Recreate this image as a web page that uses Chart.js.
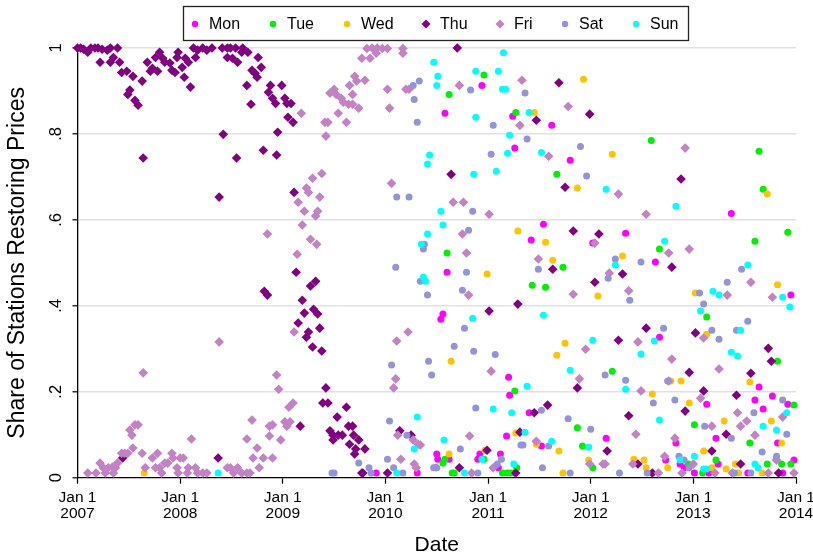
<!DOCTYPE html>
<html lang="en">
  <head>
    <meta charset="utf-8" />
    <title>Share of Stations Restoring Prices</title>
    <style>
      * {
        margin: 0;
        padding: 0;
      }
      body {
        background: white;
      }
      #myChart {
        display: block;
      }
    </style>
  </head>
  <body>
    <canvas id="myChart" width="813" height="554"></canvas>
    <script src="https://cdn.jsdelivr.net/npm/chart.js"></script>
    <script>
      // data: [decimal year, share of stations]
      const days = ["Mon", "Tue", "Wed", "Thu", "Fri", "Sat", "Sun"];
      const yTickLabels = ["0", ".2", ".4", ".6", ".8", "1"];
      const xTickYears = [2007, 2008, 2009, 2010, 2011, 2012, 2013, 2014];

      const mon = [
        [2009.91,0.011],[2010.31,0.011],[2010.94,0.913],[2010.58,0.848],[2011.24,0.841],[2011.62,0.820],
        [2011.26,0.767],[2011.80,0.739],[2011.54,0.590],[2011.42,0.553],[2012.02,0.546],[2010.60,0.478],
        [2010.56,0.381],[2010.54,0.369],[2011.20,0.234],[2011.21,0.192],[2011.40,0.151],[2011.18,0.097],
        [2011.52,0.074],[2012.15,0.092],[2010.50,0.055],[2010.51,0.043],[2010.62,0.043],[2010.92,0.055],
        [2010.90,0.043],[2011.12,0.055],[2011.10,0.023],[2010.49,0.023],[2011.26,0.011],[2013.37,0.615],
        [2012.34,0.569],[2012.63,0.502],[2013.95,0.425],[2012.67,0.327],[2013.64,0.211],[2013.13,0.171],
        [2013.60,0.181],[2013.68,0.160],[2013.77,0.190],[2013.92,0.171],[2013.22,0.092],[2012.83,0.081],
        [2013.82,0.081],[2013.98,0.041],[2012.73,0.041],[2012.87,0.032],[2013.24,0.032],[2013.01,0.011],
        [2013.15,0.011],[2013.53,0.011],[2013.87,0.011],[2012.91,0.023]
      ];
      const tue = [
        [2010.96,0.937],[2010.62,0.892],[2011.27,0.850],[2011.67,0.706],[2010.60,0.523],[2011.73,0.490],
        [2011.43,0.448],[2011.56,0.443],[2011.26,0.202],[2011.87,0.116],[2011.92,0.074],[2012.02,0.023],
        [2010.58,0.043],[2010.56,0.034],[2010.65,0.011],[2010.67,0.011],[2011.14,0.011],[2011.19,0.011],
        [2011.22,0.011],[2011.28,0.023],[2010.96,0.043],[2012.59,0.785],[2013.64,0.760],[2013.68,0.671],
        [2013.92,0.571],[2013.60,0.550],[2012.67,0.532],[2013.13,0.374],[2013.82,0.271],[2012.21,0.248],
        [2013.98,0.169],[2013.01,0.123],[2013.55,0.081],[2012.95,0.032],[2013.22,0.041],[2013.72,0.032],
        [2013.86,0.032],[2013.95,0.032],[2013.09,0.011]
      ];
      const wed = [
        [2007.65,0.011],[2011.93,0.927],[2011.45,0.850],[2011.87,0.674],[2011.29,0.574],[2011.56,0.548],
        [2011.63,0.506],[2010.99,0.474],[2012.07,0.423],[2011.75,0.313],[2011.67,0.285],[2010.64,0.271],
        [2011.27,0.104],[2011.47,0.078],[2011.69,0.062],[2010.97,0.064],[2010.62,0.055],[2011.98,0.041],
        [2011.73,0.011],[2012.21,0.753],[2013.72,0.660],[2012.31,0.516],[2013.82,0.449],[2013.02,0.430],
        [2013.13,0.334],[2012.78,0.225],[2012.88,0.225],[2013.55,0.223],[2012.60,0.195],[2012.96,0.174],
        [2013.30,0.132],[2013.76,0.132],[2013.86,0.081],[2012.42,0.043],[2012.52,0.041],[2012.54,0.023],
        [2012.75,0.023],[2013.10,0.062],[2013.41,0.032],[2013.32,0.020],[2013.44,0.011],[2013.67,0.011],
        [2013.18,0.023]
      ];
      const thu = [
        [2007.00,1.0],[2007.03,1.0],[2007.06,0.997],[2007.10,0.99],[2007.13,1.0],[2007.17,1.0],
        [2007.20,1.0],[2007.24,0.997],[2007.29,0.995],[2007.32,1.0],[2007.35,0.978],[2007.39,1.0],
        [2007.22,0.967],[2007.32,0.967],[2007.41,0.967],[2007.43,0.943],[2007.48,0.946],[2007.54,0.934],
        [2007.51,0.902],[2007.49,0.892],[2007.56,0.878],[2007.59,0.867],[2007.63,0.923],[2007.64,0.744],
        [2007.68,0.967],[2007.73,0.953],[2007.71,0.946],[2007.76,0.978],[2007.78,0.946],[2007.80,0.99],
        [2007.83,0.976],[2007.85,0.967],[2007.90,0.965],[2007.92,0.948],[2007.95,0.943],[2007.97,0.978],
        [2007.98,0.99],[2008.02,0.955],[2008.05,0.976],[2008.04,0.932],[2008.08,0.967],[2008.10,0.909],
        [2008.13,1.0],[2008.15,0.978],[2008.17,0.995],[2008.22,1.0],[2008.26,0.995],[2008.31,1.0],
        [2008.41,1.0],[2008.46,1.0],[2008.46,0.978],[2008.49,1.0],[2008.51,0.976],[2008.54,1.0],
        [2008.56,0.967],[2008.60,0.99],[2008.61,1.0],[2008.66,0.99],[2008.70,0.948],[2008.73,0.941],
        [2008.75,0.932],[2008.76,0.978],[2008.79,0.955],[2008.65,0.913],[2008.69,0.869],[2008.86,0.897],
        [2008.88,0.913],[2008.90,0.883],[2008.93,0.871],[2008.99,0.913],[2009.02,0.883],[2009.04,0.871],
        [2009.08,0.871],[2009.05,0.839],[2009.10,0.827],[2008.95,0.804],[2008.94,0.751],[2009.11,0.664],
        [2008.42,0.799],[2008.55,0.744],[2008.81,0.762],[2008.38,0.653],[2008.82,0.434],[2008.85,0.425],
        [2009.13,0.478],[2009.27,0.446],[2009.32,0.457],[2009.19,0.413],[2009.21,0.383],[2009.30,0.392],
        [2009.34,0.381],[2009.15,0.360],[2009.25,0.339],[2009.23,0.327],[2009.36,0.348],[2009.29,0.304],
        [2009.38,0.295],[2009.42,0.209],[2009.39,0.174],[2009.44,0.174],[2009.62,0.164],[2009.17,0.120],
        [2009.53,0.141],[2009.46,0.109],[2009.49,0.099],[2009.54,0.099],[2009.58,0.099],[2009.49,0.088],
        [2009.64,0.120],[2009.68,0.120],[2009.69,0.099],[2009.74,0.088],[2009.65,0.078],[2009.71,0.067],
        [2009.80,0.067],[2009.70,0.055],[2009.77,0.011],[2009.78,0.011],[2010.02,0.011],[2010.14,0.109],
        [2010.25,0.099],[2007.44,0.046],[2008.37,0.046],[2010.70,1.0],[2011.69,0.919],[2011.99,0.846],
        [2011.47,0.832],[2010.64,0.706],[2011.75,0.676],[2011.83,0.574],[2012.08,0.567],[2011.63,0.485],
        [2012.04,0.455],[2011.29,0.404],[2011.01,0.388],[2011.87,0.209],[2011.58,0.169],[2011.45,0.151],
        [2011.31,0.106],[2010.99,0.064],[2012.16,0.062],[2010.72,0.023],[2011.27,0.011],[2012.31,0.474],
        [2012.79,0.490],[2012.54,0.348],[2013.02,0.337],[2012.27,0.320],[2013.73,0.301],[2013.76,0.271],
        [2012.96,0.245],[2013.56,0.243],[2013.10,0.202],[2013.42,0.192],[2012.92,0.155],[2012.37,0.144],
        [2013.32,0.101],[2013.18,0.062],[2012.46,0.032],[2013.46,0.032],[2012.60,0.011],[2013.83,0.011],
        [2012.88,0.695]
      ];
      const fri = [
        [2007.10,0.011],[2007.18,0.011],[2007.22,0.034],[2007.25,0.023],[2007.27,0.011],[2007.30,0.023],
        [2007.34,0.025],[2007.35,0.011],[2007.37,0.023],[2007.39,0.034],[2007.43,0.057],[2007.46,0.057],
        [2007.49,0.057],[2007.51,0.111],[2007.53,0.099],[2007.56,0.123],[2007.59,0.123],[2007.54,0.069],
        [2007.63,0.057],[2007.64,0.244],[2007.66,0.023],[2007.73,0.046],[2007.78,0.057],[2007.76,0.023],
        [2007.80,0.023],[2007.82,0.011],[2007.85,0.034],[2007.88,0.034],[2007.92,0.057],[2007.93,0.046],
        [2007.97,0.023],[2008.00,0.046],[2008.03,0.046],[2007.98,0.011],[2008.07,0.011],[2008.08,0.023],
        [2008.11,0.090],[2008.15,0.023],[2008.17,0.011],[2008.22,0.011],[2008.26,0.011],[2008.38,0.316],
        [2008.46,0.023],[2008.49,0.023],[2008.52,0.011],[2008.56,0.023],[2008.60,0.011],[2008.65,0.011],
        [2008.68,0.011],[2008.70,0.134],[2008.65,0.090],[2008.75,0.069],[2008.71,0.046],[2008.81,0.046],
        [2008.77,0.023],[2008.87,0.097],[2008.90,0.123],[2008.90,0.046],[2008.94,0.239],[2008.85,0.567],
        [2009.14,0.520],[2009.11,0.339],[2008.96,0.206],[2009.06,0.164],[2009.10,0.174],[2009.02,0.130],
        [2009.07,0.130],[2009.04,0.120],[2008.87,0.120],[2008.98,0.088],[2010.11,0.318],[2010.22,0.339],
        [2010.10,0.230],[2010.08,0.209],[2010.12,0.099],[2010.27,0.088],[2010.32,0.078],[2010.15,0.043],
        [2010.28,0.032],[2010.30,0.023],[2009.82,0.999],[2009.87,1.0],[2009.92,1.0],[2009.97,0.999],
        [2010.02,0.999],[2009.77,0.976],[2009.85,0.976],[2009.91,0.988],[2010.17,0.999],[2010.17,0.988],
        [2009.70,0.934],[2009.72,0.923],[2009.80,0.925],[2009.65,0.913],[2009.46,0.895],[2009.50,0.904],
        [2009.52,0.892],[2009.57,0.883],[2009.59,0.874],[2009.68,0.892],[2009.64,0.869],[2009.68,0.869],
        [2009.74,0.860],[2009.54,0.848],[2009.62,0.827],[2009.41,0.827],[2009.44,0.827],[2009.42,0.795],
        [2010.02,0.904],[2010.04,0.860],[2010.20,0.904],[2010.23,0.904],[2009.18,0.848],[2010.06,0.685],
        [2009.38,0.708],[2009.29,0.697],[2009.23,0.674],[2009.25,0.664],[2009.36,0.653],[2009.15,0.641],
        [2009.21,0.620],[2009.34,0.620],[2009.32,0.609],[2009.19,0.588],[2009.27,0.555],[2009.33,0.543],
        [2010.72,0.913],[2011.33,0.925],[2011.78,0.864],[2011.31,0.820],[2011.59,0.748],[2010.66,0.641],
        [2010.76,0.641],[2011.01,0.613],[2010.75,0.567],[2010.79,0.523],[2012.04,0.546],[2011.49,0.509],
        [2010.81,0.425],[2011.83,0.427],[2012.18,0.476],[2011.03,0.248],[2011.95,0.299],[2011.89,0.230],
        [2010.82,0.097],[2010.34,0.076],[2011.47,0.085],[2011.99,0.032],[2012.12,0.032],[2011.05,0.023],
        [2010.84,0.011],[2012.92,0.767],[2012.27,0.660],[2012.54,0.613],[2012.76,0.523],[2012.96,0.532],
        [2012.37,0.435],[2013.56,0.455],[2013.33,0.425],[2013.77,0.420],[2012.46,0.316],[2013.10,0.325],
        [2012.79,0.276],[2013.25,0.253],[2012.76,0.225],[2012.49,0.202],[2013.07,0.185],[2013.43,0.151],
        [2013.52,0.132],[2013.46,0.120],[2013.87,0.141],[2013.18,0.120],[2012.44,0.101],[2012.82,0.092],
        [2013.60,0.099],[2012.72,0.050],[2012.41,0.032],[2012.66,0.011],[2012.89,0.011],[2013.00,0.032],
        [2013.21,0.011],[2013.38,0.011],[2013.73,0.011],[2013.81,0.041],[2013.98,0.011],[2012.14,0.032]
      ];
      const sat = [
        [2010.27,0.913],[2010.33,0.923],[2010.28,0.880],[2010.31,0.827],[2010.11,0.653],[2010.23,0.653],
        [2010.38,0.543],[2010.37,0.532],[2010.10,0.490],[2010.34,0.457],[2010.41,0.425],[2010.06,0.262],
        [2010.42,0.271],[2010.04,0.132],[2010.21,0.099],[2009.74,0.034],[2009.48,0.011],[2009.50,0.011],
        [2009.84,0.023],[2010.02,0.043],[2010.08,0.023],[2010.17,0.011],[2009.86,0.011],[2010.83,0.902],
        [2011.36,0.895],[2011.05,0.820],[2011.38,0.788],[2011.03,0.753],[2011.90,0.771],[2011.96,0.702],
        [2010.85,0.620],[2010.81,0.576],[2010.79,0.478],[2011.49,0.485],[2012.17,0.464],[2010.75,0.436],
        [2010.77,0.348],[2010.67,0.306],[2010.86,0.294],[2011.07,0.287],[2010.45,0.239],[2012.14,0.239],
        [2010.88,0.162],[2011.52,0.157],[2011.78,0.137],[2012.00,0.113],[2010.73,0.067],[2011.32,0.076],
        [2011.34,0.076],[2011.59,0.074],[2011.13,0.043],[2011.09,0.032],[2010.47,0.023],[2010.50,0.023],
        [2010.90,0.011],[2011.53,0.023],[2011.80,0.011],[2012.24,0.509],[2012.49,0.502],[2012.38,0.413],
        [2013.33,0.455],[2013.06,0.430],[2013.47,0.485],[2013.10,0.404],[2012.71,0.348],[2013.18,0.343],
        [2013.25,0.322],[2013.42,0.343],[2013.53,0.364],[2012.34,0.227],[2012.75,0.225],[2012.82,0.181],
        [2012.61,0.174],[2013.59,0.151],[2013.87,0.181],[2013.91,0.101],[2013.11,0.120],[2013.37,0.092],
        [2013.67,0.060],[2013.81,0.050],[2012.91,0.041],[2012.86,0.050],[2012.96,0.023],[2012.28,0.011],
        [2012.55,0.011],[2013.40,0.011],[2013.56,0.011]
      ];
      const sun = [
        [2008.37,0.011],[2010.43,0.751],[2010.41,0.730],[2010.41,0.567],[2010.35,0.543],[2010.37,0.467],
        [2010.39,0.457],[2010.31,0.141],[2010.28,0.067],[2010.11,0.011],[2011.15,0.989],[2010.47,0.967],
        [2010.88,0.946],[2011.10,0.946],[2010.51,0.934],[2010.50,0.913],[2011.14,0.904],[2011.17,0.904],
        [2010.88,0.839],[2011.40,0.850],[2011.21,0.797],[2011.19,0.755],[2011.52,0.757],[2010.86,0.706],
        [2011.08,0.713],[2012.15,0.671],[2010.54,0.620],[2010.56,0.588],[2010.85,0.371],[2011.54,0.378],
        [2012.02,0.320],[2011.80,0.250],[2011.38,0.213],[2011.05,0.160],[2011.23,0.151],[2011.36,0.106],
        [2011.62,0.085],[2011.98,0.071],[2010.57,0.088],[2010.94,0.043],[2011.25,0.032],[2010.77,0.011],
        [2012.83,0.632],[2012.72,0.550],[2012.24,0.495],[2013.53,0.495],[2013.19,0.434],[2013.25,0.425],
        [2013.87,0.420],[2013.94,0.397],[2013.07,0.388],[2012.62,0.318],[2013.46,0.343],[2013.37,0.292],
        [2013.43,0.283],[2012.49,0.288],[2012.34,0.206],[2012.67,0.134],[2013.91,0.151],[2013.68,0.120],
        [2013.81,0.111],[2013.01,0.050],[2012.87,0.041],[2013.10,0.020],[2013.13,0.020],[2013.60,0.032],
        [2013.63,0.023]
      ];

      const series = [mon, tue, wed, thu, fri, sat, sun];
      const colors = ["#ff00ff", "#00ee00", "#ffc400", "#800080", "#c382c4", "#9393d8", "#00ffff"];
      const shapes = ["circle", "circle", "circle", "rectRot", "rectRot", "circle", "circle"];
      const FONT = "'Liberation Sans', Arial, Helvetica, sans-serif";

      // setup
      const data = {
        datasets: series.map((s, i) => ({
          label: days[i],
          data: s.map((p) => ({ x: p[0], y: p[1] })),
          pointStyle: shapes[i],
          pointRadius: shapes[i] === "rectRot" ? 4.8 : 3.5,
          pointBorderWidth: 0,
          backgroundColor: colors[i],
          borderColor: colors[i],
          clip: false,
          order: 6 - i,
        })),
      };

      // legend box + rotated y labels
      const stataBits = {
        id: "stataBits",
        afterDraw(chart) {
          const ctx = chart.ctx;
          const y = chart.scales.y;
          ctx.save();
          ctx.fillStyle = "#000";
          ctx.font = "16.5px " + FONT;
          ctx.textAlign = "center";
          ctx.textBaseline = "middle";
          y.ticks.forEach((t, i) => {
            const py = y.getPixelForValue(t.value);
            ctx.save();
            ctx.translate(56, py);
            ctx.rotate(-Math.PI / 2);
            ctx.fillText(yTickLabels[i], 0, 0);
            ctx.restore();
          });

          // legend
          const lx = [195, 273, 347, 426, 500, 565, 636];
          ctx.lineWidth = 1.3;
          ctx.strokeStyle = "#222";
          ctx.strokeRect(183.5, 6.5, 505, 34);
          ctx.font = "16px " + FONT;
          ctx.textAlign = "left";
          chart.data.datasets.forEach((ds, i) => {
            ctx.fillStyle = ds.backgroundColor;
            ctx.beginPath();
            if (ds.pointStyle === "rectRot") {
              const r = 4.5;
              ctx.moveTo(lx[i], 24 - r);
              ctx.lineTo(lx[i] + r, 24);
              ctx.lineTo(lx[i], 24 + r);
              ctx.lineTo(lx[i] - r, 24);
            } else {
              ctx.arc(lx[i], 24, 3.2, 0, Math.PI * 2);
            }
            ctx.closePath();
            ctx.fill();
            ctx.fillStyle = "#000";
            ctx.fillText(ds.label, lx[i] + 14, 24.5);
          });
          ctx.restore();
        },
      };

      // config
      const config = {
        type: "scatter",
        data,
        options: {
          responsive: false,
          animation: false,
          layout: { padding: { left: 0, right: 17, top: 48, bottom: 0 } },
          plugins: {
            legend: { display: false },
            tooltip: { enabled: false },
          },
          scales: {
            x: {
              type: "linear",
              min: xTickYears[0],
              max: xTickYears[xTickYears.length - 1],
              afterFit: (s) => {
                s.height = 554 - 477.7;
                s.paddingLeft = 0;
                s.paddingRight = 0;
              },
              afterBuildTicks: (s) => { s.ticks = xTickYears.map((v) => ({ value: v })); },
              ticks: {
                autoSkip: false,
                maxRotation: 0,
                padding: 7,
                color: "#000",
                font: { family: FONT, size: 15.5, lineHeight: 0.97 },
                callback: (v) => ["Jan 1", String(v)],
              },
              grid: {
                drawOnChartArea: false,
                tickLength: 6,
                tickColor: "#000",
                tickWidth: 1.2,
              },
              border: { color: "#000", width: 1.3 },
              title: {
                display: true,
                text: "Date",
                color: "#000",
                font: { family: FONT, size: 21, lineHeight: 0.86 },
                padding: { top: 0, bottom: 0 },
              },
            },
            y: {
              min: 0,
              max: 1,
              afterFit: (s) => { s.width = 77.5; },
              ticks: { stepSize: 0.2, display: false },
              grid: {
                color: (c) => (c.tick && c.tick.value === 0 ? "rgba(0,0,0,0)" : "#e1e1e1"),
                lineWidth: 1.6,
                tickLength: 5,
                tickColor: "#000",
                tickWidth: 1.2,
              },
              border: { color: "#000", width: 1.3 },
              title: {
                display: true,
                text: "Share of Stations Restoring Prices",
                color: "#000",
                font: { family: FONT, size: 23, lineHeight: 1.0 },
                padding: { top: 6.5, bottom: 0 },
              },
            },
          },
        },
        plugins: [stataBits],
      };

      // render init block
      const myChart = new Chart(document.getElementById("myChart"), config);
    </script>
  </body>
</html>
